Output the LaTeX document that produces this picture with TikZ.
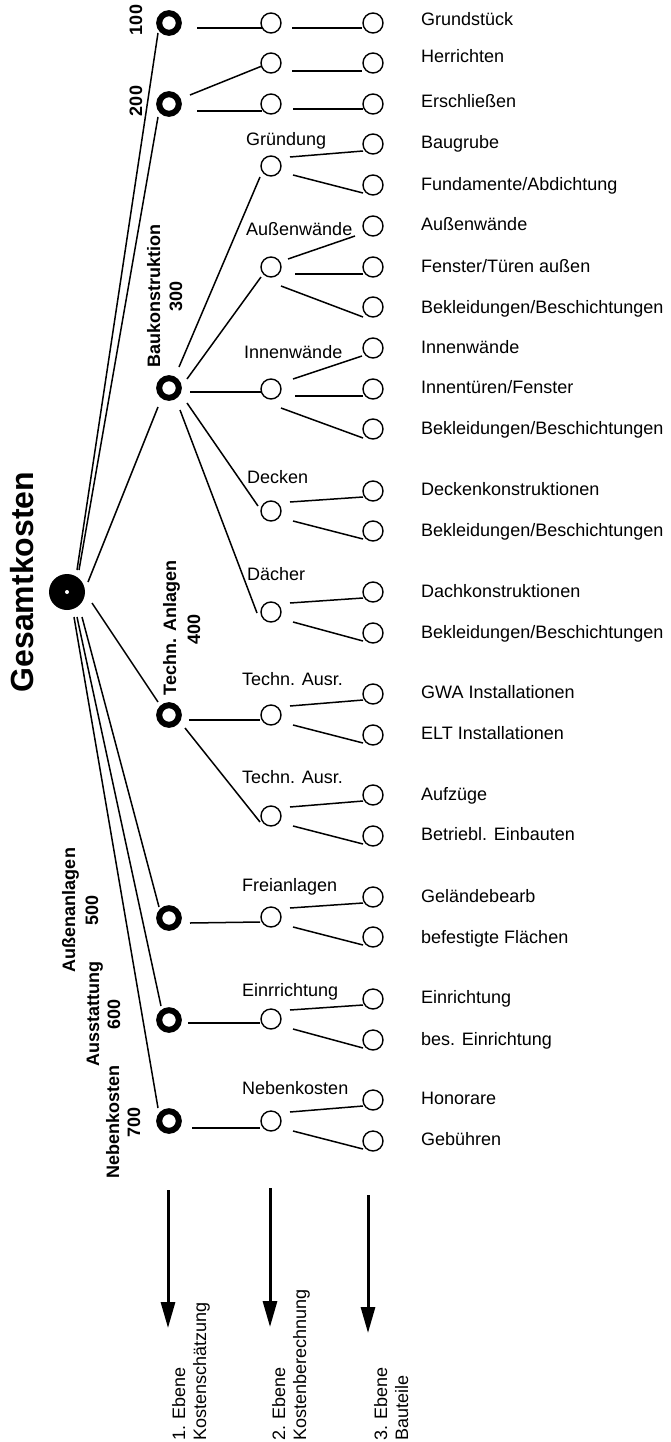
\documentclass[tikz,border=0pt]{standalone}
\usepackage{fontspec}
\setmainfont{Liberation Sans}
\usetikzlibrary{calc,arrows.meta}
\begin{document}
\begin{tikzpicture}[x=1pt,y=-1pt,
 conn/.style={line width=1.5pt},
 rootnode/.style={circle,fill=black,minimum size=36pt,inner sep=0pt},
 lone/.style={circle,draw,line width=6pt,minimum size=19.6pt,inner sep=0pt},
 ltwo/.style={circle,draw,line width=1.4pt,minimum size=20pt,inner sep=0pt},
 lab/.style={anchor=base west,inner sep=0pt,font=\fontsize{18}{22}\selectfont},
 vlab/.style={rotate=90,anchor=base,inner sep=0pt,font=\bfseries\fontsize{18}{22}\selectfont},
 elab/.style={rotate=90,anchor=base west,inner sep=0pt,font=\fontsize{18}{22}\selectfont},
 bigarrow/.style={line width=3pt,-{Triangle[length=26pt,width=14pt]}}
]
\useasboundingbox (0,0) rectangle (670,1442);

% root
\node[rootnode] (root) at (67,592) {};
\fill[white] (root.center) circle (2pt);
\node[rotate=90,anchor=base,inner sep=0pt,font=\bfseries\fontsize{32}{38}\selectfont] (gk) at (33,582) {Gesamtkosten};

% level 1
\node[lone] (La) at (169,23) {};
\node[lone] (Lb) at (169,104) {};
\node[lone] (Lc) at (169,388) {};
\node[lone] (Ld) at (169,715) {};
\node[lone] (Le) at (169,918) {};
\node[lone] (Lf) at (169,1020) {};
\node[lone] (Lg) at (169,1121) {};

\node[vlab] (la1) at (142,20) {100};
\node[vlab] (lb1) at (142,101) {200};
\node[vlab] (lc1) at (160,296) {Baukonstruktion};
\node[vlab] (lc2) at (182,296) {300};
\node[vlab] (ld1) at (176,628) {Techn. Anlagen};
\node[vlab] (ld2) at (200,629) {400};
\node[vlab] (le1) at (75,910) {Außenanlagen};
\node[vlab] (le2) at (98,910) {500};
\node[vlab] (lf1) at (99,1014) {Ausstattung};
\node[vlab] (lf2) at (120,1014) {600};
\node[vlab] (lg1) at (119,1122) {Nebenkosten};
\node[vlab] (lg2) at (140,1122) {700};

% level 2
\node[ltwo] (m1) at (271,23) {};
\node[ltwo] (m2) at (271,63) {};
\node[ltwo] (m3) at (271,104) {};
\node[ltwo] (m4) at (271,166) {};
\node[ltwo] (m5) at (271,267) {};
\node[ltwo] (m6) at (271,389) {};
\node[ltwo] (m7) at (271,511) {};
\node[ltwo] (m8) at (271,612) {};
\node[ltwo] (m9) at (271,715) {};
\node[ltwo] (m10) at (271,816) {};
\node[ltwo] (m11) at (271,917) {};
\node[ltwo] (m12) at (271,1019) {};
\node[ltwo] (m13) at (271,1121) {};

\node[lab] (ml4) at (246,146) {Gründung};
\node[lab] (ml5) at (246,235) {Außenwände};
\node[lab] (ml6) at (244,358) {Innenwände};
\node[lab] (ml7) at (247,483) {Decken};
\node[lab] (ml8) at (247,580) {Dächer};
\node[lab] (ml9) at (242,685) {Techn. Ausr.};
\node[lab] (ml10) at (242,783) {Techn. Ausr.};
\node[lab] (ml11) at (242,891) {Freianlagen};
\node[lab] (ml12) at (242,996) {Einrrichtung};
\node[lab] (ml13) at (242,1094) {Nebenkosten};

% level 3
\foreach \i/\yy in {1/23,2/63,3/104,4/144,5/185,6/226,7/267,8/307,9/348,10/389,11/429,12/491,13/531,14/592,15/633,16/694,17/735,18/795,19/836,20/897,21/937,22/999,23/1040,24/1100,25/1141}
  \node[ltwo] (r\i) at (373,\yy) {};

\node[lab] (t1) at (421,26) {Grundstück};
\node[lab] (t2) at (421,63) {Herrichten};
\node[lab] (t3) at (421,108) {Erschließen};
\node[lab] (t4) at (421,149) {Baugrube};
\node[lab] (t5) at (421,190) {Fundamente/Abdichtung};
\node[lab] (t6) at (421,230) {Außenwände};
\node[lab] (t7) at (421,272) {Fenster/Türen außen};
\node[lab] (t8) at (421,313) {Bekleidungen/Beschichtungen};
\node[lab] (t9) at (421,353) {Innenwände};
\node[lab] (t10) at (421,393) {Innentüren/Fenster};
\node[lab] (t11) at (421,434) {Bekleidungen/Beschichtungen};
\node[lab] (t12) at (421,495) {Deckenkonstruktionen};
\node[lab] (t13) at (421,536) {Bekleidungen/Beschichtungen};
\node[lab] (t14) at (421,597) {Dachkonstruktionen};
\node[lab] (t15) at (421,638) {Bekleidungen/Beschichtungen};
\node[lab] (t16) at (421,698) {GWA Installationen};
\node[lab] (t17) at (421,739) {ELT Installationen};
\node[lab] (t18) at (421,800) {Aufzüge};
\node[lab] (t19) at (421,840) {Betriebl. Einbauten};
\node[lab] (t20) at (421,902) {Geländebearb};
\node[lab] (t21) at (421,943) {befestigte Flächen};
\node[lab] (t22) at (421,1003) {Einrichtung};
\node[lab] (t23) at (421,1045) {bes. Einrichtung};
\node[lab] (t24) at (421,1104) {Honorare};
\node[lab] (t25) at (421,1145) {Gebühren};

% connectors root -> level 1
\draw[conn] ($(root)+(10,-22)$) -- ($(La)+(-11,10)$);
\draw[conn] ($(root)+(12,-22)$) -- ($(Lb)+(-11,13)$);
\draw[conn] ($(root)+(21,-10)$) -- ($(Lc)+(-11,19)$);
\draw[conn] ($(root)+(25,11)$) -- ($(Ld)+(-11,-13)$);
\draw[conn] ($(root)+(15,25)$) -- ($(Le)+(-10,-11)$);
\draw[conn] ($(root)+(10,25)$) -- ($(Lf)+(-8,-14)$);
\draw[conn] ($(root)+(7,25)$) -- ($(Lg)+(-11,-13)$);

% level 1 -> level 2
\draw[conn] ($(La)+(28,5)$) -- ($(m1)+(-9,5)$);
\draw[conn] ($(Lb)+(21,-9)$) -- ($(m2)+(-9,3)$);
\draw[conn] ($(Lb)+(28,7)$) -- ($(m3)+(-9,7)$);
\draw[conn] ($(Lc)+(10,-21)$) -- ($(m4)+(-11,11)$);
\draw[conn] ($(Lc)+(18,-9)$) -- ($(m5)+(-10,10)$);
\draw[conn] ($(Lc)+(21,4)$) -- ($(m6)+(-10,3)$);
\draw[conn] ($(Lc)+(18,15)$) -- ($(m7)+(-13,-5)$);
\draw[conn] ($(Lc)+(11,22)$) -- ($(m8)+(-14,1)$);
\draw[conn] ($(Ld)+(20,5)$) -- ($(m9)+(-11,5)$);
\draw[conn] ($(Ld)+(16,13)$) -- ($(m10)+(-11,6)$);
\draw[conn] ($(Le)+(21,5)$) -- ($(m11)+(-11,5)$);
\draw[conn] ($(Lf)+(19,3)$) -- ($(m12)+(-11,4)$);
\draw[conn] ($(Lg)+(23,7)$) -- ($(m13)+(-11,7)$);

% level 2 -> level 3
\draw[conn] ($(m1)+(21,5)$) -- ($(r1)+(-11,5)$);
\draw[conn] ($(m2)+(21,8)$) -- ($(r2)+(-11,8)$);
\draw[conn] ($(m3)+(22,5)$) -- ($(r3)+(-10,5)$);
\draw[conn] ($(m4)+(19,-9)$) -- ($(r4)+(-10,7)$);
\draw[conn] ($(m4)+(22,9)$) -- ($(r5)+(-10,8)$);
\draw[conn] ($(m5)+(17,-8)$) -- ($(r6)+(-18,10)$);
\draw[conn] ($(m5)+(24,7)$) -- ($(r7)+(-10,7)$);
\draw[conn] ($(m5)+(10,19)$) -- ($(r8)+(-10,10)$);
\draw[conn] ($(m6)+(22,-10)$) -- ($(r9)+(-11,8)$);
\draw[conn] ($(m6)+(24,7)$) -- ($(r10)+(-10,7)$);
\draw[conn] ($(m6)+(10,19)$) -- ($(r11)+(-10,9)$);
\foreach \m/\a/\b in {7/12/13,8/14/15,9/16/17,10/18/19,11/20/21,12/22/23,13/24/25}{
  \draw[conn] ($(m\m)+(19,-9)$) -- ($(r\a)+(-10,6)$);
  \draw[conn] ($(m\m)+(22,10)$) -- ($(r\b)+(-10,8)$);
}

% level arrows
\coordinate (a1s) at (168,1190); \coordinate (a1e) at (168,1328);
\coordinate (a2s) at (270,1188); \coordinate (a2e) at (270,1327);
\coordinate (a3s) at (368,1195); \coordinate (a3e) at (368,1333);
\draw[bigarrow] (a1s) -- (a1e);
\draw[bigarrow] (a2s) -- (a2e);
\draw[bigarrow] (a3s) -- (a3e);

\node[elab] (e1a) at (185,1441) {1. Ebene};
\node[elab] (e1b) at (206,1441) {Kostenschätzung};
\node[elab] (e2a) at (285,1441) {2. Ebene};
\node[elab] (e2b) at (306,1441) {Kostenberechnung};
\node[elab] (e3a) at (387,1441) {3. Ebene};
\node[elab] (e3b) at (408,1441) {Bauteile};
\end{tikzpicture}
\end{document}
